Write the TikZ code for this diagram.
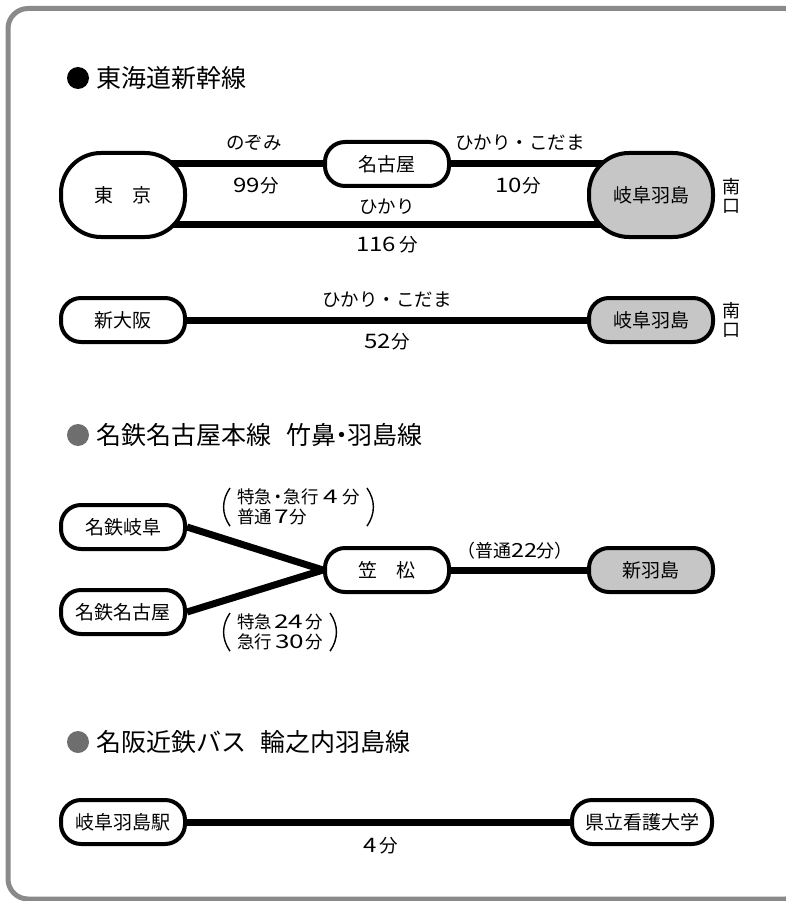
\documentclass[tikz,border=0pt]{standalone}
\usepackage{fontspec}
\usepackage{graphicx}
\setmainfont{Noto Sans CJK JP}
\usetikzlibrary{backgrounds}
\definecolor{framegray}{HTML}{8A8A8A}
\definecolor{dotgray}{HTML}{6E6E6E}
\definecolor{stngray}{HTML}{C6C6C6}
\newcommand\dg[1]{\scalebox{1.3}[1.08]{#1}}
\newcommand\dgw[1]{\scalebox{1.5}[1.08]{#1}}
\begin{document}
\begin{tikzpicture}[x=1pt,y=-1pt,
  stn/.style={draw=black,line width=4pt,fill=white,rounded corners=20pt,minimum width=124pt,minimum height=44pt,inner sep=0pt,font=\fontsize{19}{21}\selectfont},
  bigstn/.style={stn,rounded corners=40pt,minimum height=84pt},
  graystn/.style={fill=stngray},
  rail/.style={line width=7pt,black},
  lbl/.style={font=\fontsize{18.5}{20}\selectfont,inner sep=0pt},
  plbl/.style={font=\fontsize{17.5}{19.5}\selectfont,inner sep=0pt,align=left},
  paren/.style={line width=1.4pt,black},
  ttl/.style={font=\fontsize{25}{27}\selectfont,anchor=west,inner sep=0pt},
  vlbl/.style={font=\fontsize{18}{18.5}\selectfont,align=center,inner sep=0pt}]
\useasboundingbox (0,0) rectangle (786,901);
\begin{scope}[on background layer]
\fill[white] (0,0) rectangle (786,901);
\end{scope}
\draw[framegray,line width=5pt,rounded corners=20pt] (8,8.5) rectangle (805,899);

% section 1
\fill[black] (78,78) circle (11);
\node[ttl] (t1) at (96,78) {東海道新幹線};

\node[bigstn] (tokyo) at (123,195) {東　京};
\node[stn] (nagoya) at (387,164) {名古屋};
\node[bigstn,graystn] (hashima1) at (651,195) {岐阜羽島};
\node[vlbl] (s1) at (731.5,196) {南\\口};
\begin{scope}[on background layer]
\draw[rail] (tokyo.center |- nagoya.center) -- (nagoya.center) -- (hashima1.center |- nagoya.center);
\draw[rail] ([yshift=-30pt]tokyo.center) -- ([yshift=-30pt]hashima1.center);
\end{scope}
\node[lbl] (l1) at (254,143) {のぞみ};
\node[lbl] (l2) at (256,186) {\dg{99}分};
\node[lbl] (l3) at (520,143) {ひかり・こだま};
\node[lbl] (l4) at (518,186) {\dg{10}分};
\node[lbl] (l5) at (387,207) {ひかり};
\node[lbl] (l6) at (387,245) {\dg{116}\,分};

% section 1b
\node[stn] (osaka) at (123,320) {新大阪};
\node[stn,graystn] (hashima2) at (651,320) {岐阜羽島};
\node[vlbl] (s2) at (731.5,320) {南\\口};
\begin{scope}[on background layer]
\draw[rail] (osaka.center) -- (hashima2.center);
\end{scope}
\node[lbl] (l7) at (387,300) {ひかり・こだま};
\node[lbl] (l8) at (387,342) {\dg{52}分};

% section 2
\fill[dotgray] (78,435) circle (11);
\node[ttl] (t2) at (96,435) {名鉄名古屋本線\hspace{15pt}竹鼻\hspace{-7pt}・\hspace{-7pt}羽島線};

\node[stn] (mgifu) at (123,527) {名鉄岐阜};
\node[stn] (mnagoya) at (123,612) {名鉄名古屋};
\node[stn] (kasamatsu) at (387,570) {笠　松};
\node[stn,graystn] (shinhashima) at (651,570) {新羽島};
\begin{scope}[on background layer]
\draw[rail] (mgifu.east) -- (kasamatsu.west);
\draw[rail] (mnagoya.east) -- (kasamatsu.west);
\draw[rail] (kasamatsu.center) -- (shinhashima.center);
\end{scope}
\node[plbl,anchor=north west] (p1) at (237,489) {特急\hspace{-3pt}・\hspace{-3pt}急行\hspace{5pt}\dgw{4}\hspace{4pt}分\\普通\hspace{2pt}\dgw{7}\hspace{1pt}分};
\draw[paren] ([xshift=-7pt,yshift=1pt]p1.north west) to[bend right=35] ([xshift=-7pt,yshift=-1pt]p1.south west);
\draw[paren] ([xshift=7pt,yshift=1pt]p1.north east) to[bend left=35] ([xshift=7pt,yshift=-1pt]p1.south east);
\node[lbl,font=\fontsize{18}{20}\selectfont] (p2) at (515,551) {（普通\dg{22}分）};
\node[plbl,anchor=north west] (p3) at (237,614) {特急\hspace{2pt}\dgw{24}\hspace{2pt}分\\急行\hspace{3pt}\dgw{30}\hspace{1pt}分};
\draw[paren] ([xshift=-7pt,yshift=1pt]p3.north west) to[bend right=35] ([xshift=-7pt,yshift=-1pt]p3.south west);
\draw[paren] ([xshift=7pt,yshift=1pt]p3.north east) to[bend left=35] ([xshift=7pt,yshift=-1pt]p3.south east);

% section 3
\fill[dotgray] (78,742) circle (11);
\node[ttl] (t3) at (96,742) {名阪近鉄バス\hspace{14pt}輪之内羽島線};

\node[stn] (hashimaeki) at (123,822) {岐阜羽島駅};
\node[stn,minimum width=140pt] (kango) at (642,822) {県立看護大学};
\begin{scope}[on background layer]
\draw[rail] (hashimaeki.center) -- (kango.center);
\end{scope}
\node[lbl] (l9) at (381,846) {\dg{4}\,分};
\end{tikzpicture}
\end{document}
